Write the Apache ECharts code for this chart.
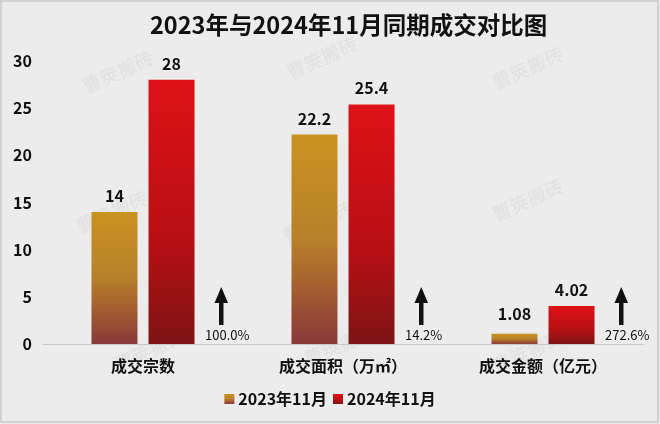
<!DOCTYPE html>
<html><head><meta charset="utf-8">
<script src="https://cdn.jsdelivr.net/npm/echarts@6/dist/echarts.min.js"></script>
<style>html,body{margin:0;padding:0;background:#fff}#c{width:660px;height:424px}</style>
</head><body><div id="c"></div>
<script>
const categories = ['成交宗数', '成交面积（万㎡）', '成交金额（亿元）'];
const seriesNames = ['2023年11月', '2024年11月'];
const values2023 = [14, 22.2, 1.08];
const values2024 = [28, 25.4, 4.02];
const growthLabels = ['100.0%', '14.2%', '272.6%'];
const yTicks = [0, 5, 10, 15, 20, 25, 30];

const FONT = '"Noto Sans CJK SC", "Noto Sans", sans-serif';
const gold = new echarts.graphic.LinearGradient(0, 0, 0, 1, [
  {offset: 0, color: '#c99320'}, {offset: 0.5, color: '#b8802a'}, {offset: 1, color: '#8a3838'}]);
const red = new echarts.graphic.LinearGradient(0, 0, 0, 1, [
  {offset: 0, color: '#de1216'}, {offset: 0.6, color: '#b80f14'}, {offset: 1, color: '#7e1414'}]);

const chart = echarts.init(document.getElementById('c'), null, {renderer: 'canvas'});

const wmPos = [[118,72],[322,58],[528,68],[112,212],[318,222],[528,200],[150,350],[340,345],[528,352]];
const watermarks = wmPos.map(p => ({
  type: 'text', x: p[0], y: p[1], rotation: Math.PI / 7.5, z: 0,
  style: {text: '曹筴搬砖', font: '19px ' + FONT, fill: 'rgba(170,170,170,0.18)', align: 'center', verticalAlign: 'middle'}
}));

chart.setOption({
  backgroundColor: '#ececec',
  textStyle: {fontFamily: FONT},
  graphic: [{type: 'rect', shape: {x: 1, y: 1, width: 657, height: 421}, style: {fill: 'none', stroke: '#d2d2d2', lineWidth: 2}, z: -1}].concat(watermarks),
  title: {
    text: '2023年与2024年11月同期成交对比图', left: 145, top: 8,
    textStyle: {fontSize: 23.5, fontWeight: 'bold', color: '#111', fontFamily: FONT}
  },
  legend: {
    data: seriesNames, bottom: 12, left: 'center', itemWidth: 10, itemHeight: 10, itemGap: 6,
    icon: 'rect',
    textStyle: {fontSize: 16, fontWeight: 'bold', color: '#111', padding: [0, 0, 0, -1]}
  },
  grid: {left: 43, right: 17, top: 61, bottom: 80, containLabel: false},
  xAxis: {
    type: 'category', data: categories,
    axisLine: {lineStyle: {color: '#c8c8c8'}}, axisTick: {show: false},
    axisLabel: {fontSize: 16, fontWeight: 'bold', color: '#111', margin: 14}
  },
  yAxis: {
    type: 'value', min: yTicks[0], max: yTicks[yTicks.length - 1], interval: 5,
    axisLine: {show: false}, axisTick: {show: false}, splitLine: {show: false},
    axisLabel: {fontSize: 16, fontWeight: 'bold', color: '#111', margin: 11}
  },
  series: [
    {
      name: seriesNames[0], type: 'bar', data: values2023.map((v, i) => i === 2 ? {value: v, label: {distance: 12}} : v),
      barWidth: 46, barGap: '24%', itemStyle: {color: gold},
      label: {show: true, position: 'top', distance: 8, fontSize: 16, fontWeight: 'bold', color: '#111'}
    },
    {
      name: seriesNames[1], type: 'bar', data: values2024,
      barWidth: 46, itemStyle: {color: red},
      label: {show: true, position: 'top', distance: 8, fontSize: 16, fontWeight: 'bold', color: '#111'}
    },
    {
      type: 'custom', name: 'growth', silent: true, z: 5,
      data: growthLabels.map((g, i) => [i, 0, g]),
      renderItem: function (params, api) {
        const base = api.coord([api.value(0), 0]);
        const ax = base[0] + 78, yb = base[1] - 19, yt = base[1] - 57;
        return {
          type: 'group', children: [
            {type: 'rect', shape: {x: ax - 2, y: yt + 14, width: 4.5, height: yb - yt - 14}, style: {fill: '#111'}},
            {type: 'polygon', shape: {points: [[ax + 0.25, yt], [ax - 6.5, yt + 16], [ax + 7, yt + 16]]}, style: {fill: '#111'}},
            {type: 'text', x: base[0] + 62, y: base[1] - 9,
             style: {text: growthLabels[params.dataIndex], font: '13px ' + FONT, fill: '#111', align: 'left', verticalAlign: 'middle'}}
          ]
        };
      }
    }
  ]
});
</script></body></html>
